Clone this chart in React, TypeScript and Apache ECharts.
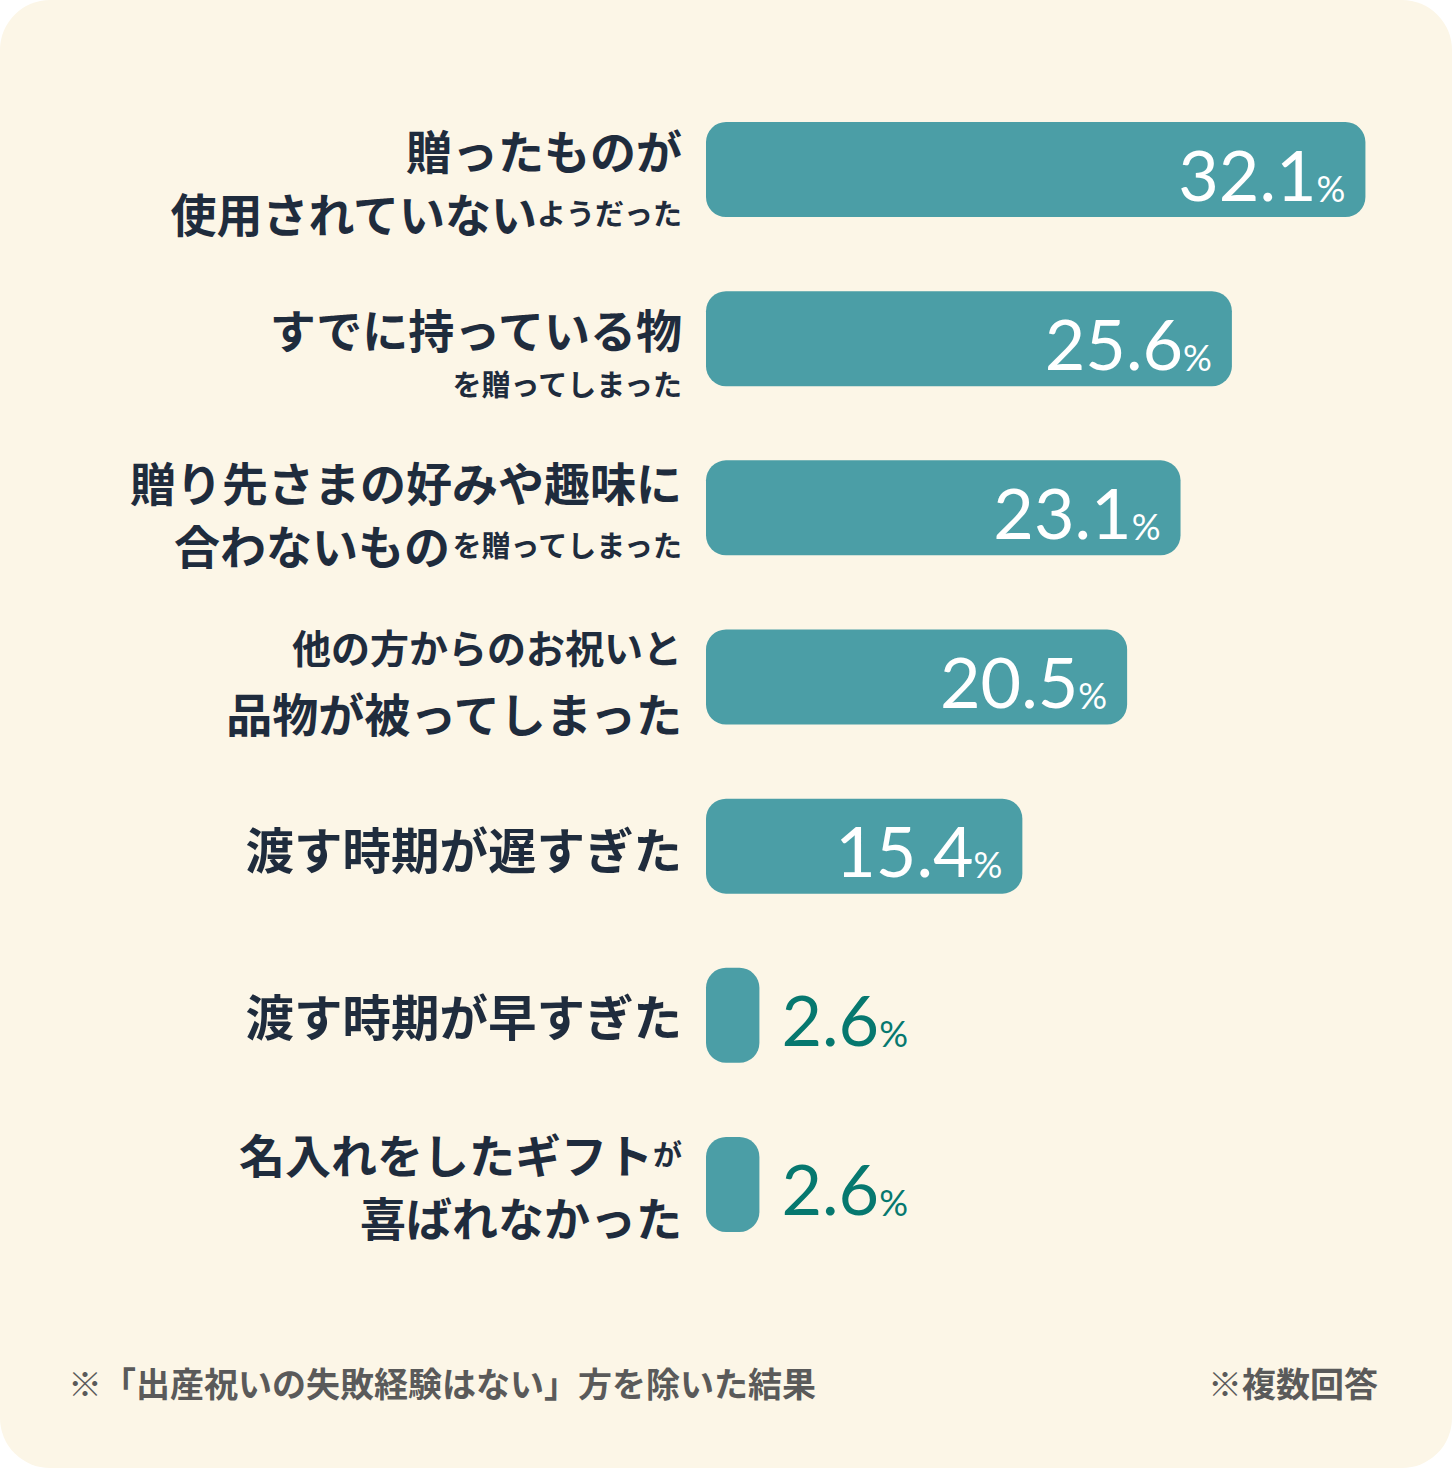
import { useEffect, useRef } from 'react';
import * as echarts from 'echarts';

// {b|..} = large label text, {w|..} = large, looser set, {s|..} = small, {m|..} = medium
const categories = [
  '{b|贈ったものが}\n{b|使用されていない}{s|ようだった}',
  '{b|すでに持っている物}\n{s|を贈ってしまった}',
  '{b|贈り先さまの好みや趣味に}\n{b|合わないもの}{s|を贈ってしまった}',
  '{m|他の方からのお祝いと}\n{b|品物が被ってしまった}',
  '{w|渡す時期が遅すぎた}',
  '{w|渡す時期が早すぎた}',
  '{b|名入れをしたギフト}{s|が}\n{b|喜ばれなかった}',
];
const values = [32.1, 25.6, 23.1, 20.5, 15.4, 2.6, 2.6];
const footnoteLeft = '※「出産祝いの失敗経験はない」方を除いた結果';
const footnoteRight = '※複数回答';

const BAR = '#4b9ea6';
const INK = '#1f2c3d';
const OUT = '#06786f';
const JP = '"Noto Sans CJK JP", sans-serif';
const NUM = 'Lato, "Noto Sans", sans-serif';
// some labels sit a little below their bar's centre in the original
const labelNudge = [22, 26, 10, 0, 4, 0, 0];

export default function App() {
  const ref = useRef<HTMLDivElement>(null);

  useEffect(() => {
    if (!ref.current) return;
    const chart = echarts.init(ref.current, undefined, { renderer: 'svg' });

    const valueRich = (color: string) => ({
      n: { fontFamily: NUM, fontSize: 70, color, lineHeight: 72, padding: [8, 0, 0, 0] },
      p: { fontFamily: NUM, fontSize: 36, color, lineHeight: 42, verticalAlign: 'bottom' },
    });

    chart.setOption({
      animation: false,
      grid: { left: 706, top: 85, height: 1184, width: 719 },
      xAxis: {
        type: 'value',
        min: 0,
        max: 35,
        show: false,
      },
      yAxis: {
        type: 'category',
        inverse: true,
        data: categories.map((c, i) => ({
          value: c,
          textStyle: { padding: [labelNudge[i], 0, 0, 0] },
        })),
        axisLine: { show: false },
        axisTick: { show: false },
        splitLine: { show: false },
        axisLabel: {
          margin: 24,
          align: 'right',
          color: INK,
          fontFamily: JP,
          rich: {
            b: { fontFamily: JP, fontSize: 46, fontWeight: 'bold', color: INK, lineHeight: 63 },
            w: { fontFamily: JP, fontSize: 48.5, fontWeight: 'bold', color: INK, lineHeight: 63 },
            m: { fontFamily: JP, fontSize: 39, fontWeight: 'bold', color: INK, lineHeight: 70 },
            s: { fontFamily: JP, fontSize: 29, fontWeight: 'bold', color: INK, lineHeight: 48 },
          },
        },
      },
      series: [
        {
          type: 'bar',
          barWidth: 95,
          itemStyle: { color: BAR, borderRadius: 20 },
          data: values.map((v) => {
            const inside = v >= 10;
            return {
              value: v,
              label: {
                show: true,
                position: inside ? 'insideRight' : 'right',
                distance: inside ? 20 : 22,
                formatter: '{n|' + v.toFixed(1) + '}{p|%}',
                rich: valueRich(inside ? '#ffffff' : OUT),
              },
            };
          }),
        },
      ],
      graphic: [
        {
          type: 'text',
          left: 68,
          top: 1365,
          style: {
            text: footnoteLeft,
            fontFamily: JP,
            fontSize: 34,
            fontWeight: 'bold',
            fill: '#5a5a5a',
          },
        },
        {
          type: 'text',
          right: 74,
          top: 1365,
          style: {
            text: footnoteRight,
            fontFamily: JP,
            fontSize: 34,
            fontWeight: 'bold',
            fill: '#5a5a5a',
          },
        },
      ],
    });

    return () => chart.dispose();
  }, []);

  return (
    <div style={{ position: 'absolute', left: 0, top: 0, width: 1452, height: 1468, background: '#ffffff' }}>
      <div
        style={{
          position: 'absolute',
          inset: 0,
          background: '#fcf6e7',
          borderRadius: 50,
        }}
      />
      <div ref={ref} style={{ position: 'absolute', left: 0, top: 0, width: 1452, height: 1468 }} />
    </div>
  );
}
